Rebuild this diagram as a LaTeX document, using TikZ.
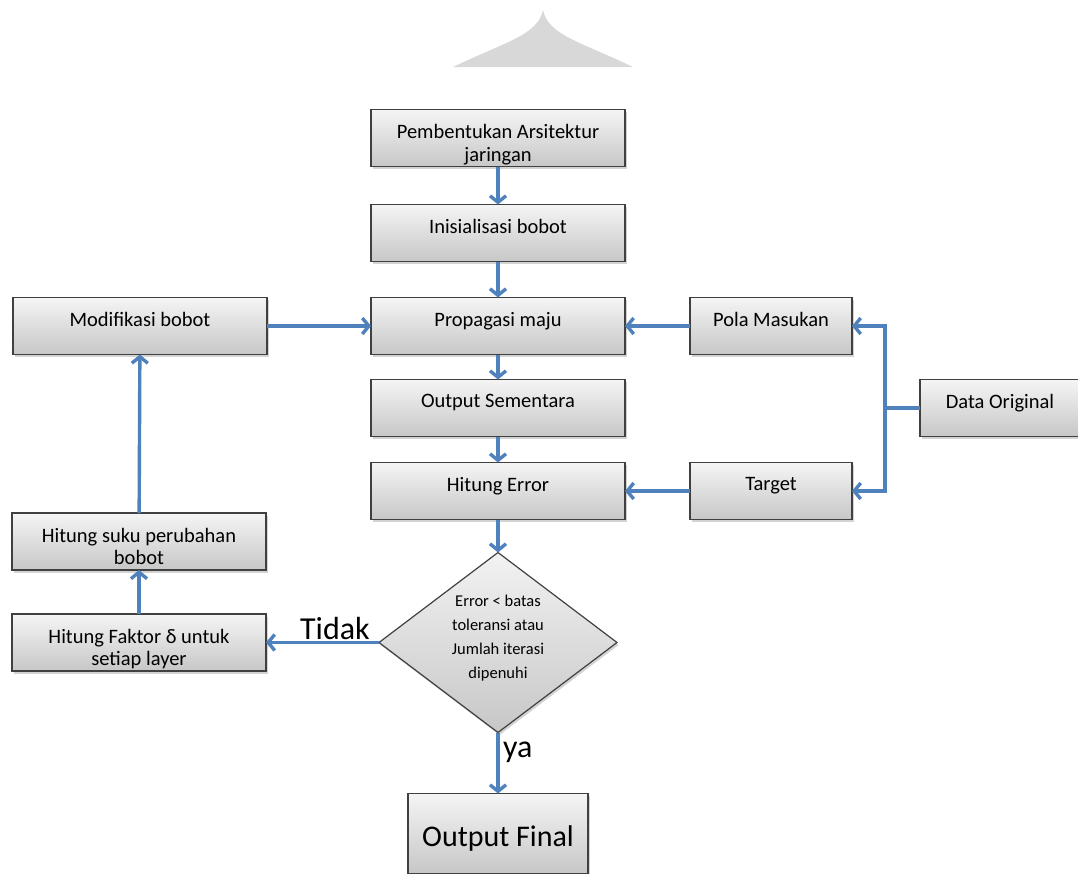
\documentclass[tikz,border=0pt]{standalone}
\usepackage{fontspec}
\setmainfont{Carlito}
\usetikzlibrary{arrows.meta,positioning,shapes.geometric,shadows}

\definecolor{flowblue}{RGB}{79,129,189}
\definecolor{roofgray}{RGB}{216,216,216}

\begin{document}
\begin{tikzpicture}[x=1pt,y=1pt,yscale=-1,
  box/.style = {draw=black!75, line width=1.2pt, rectangle, outer sep=0pt,
    top color=black!4, bottom color=black!22,
    drop shadow={shadow xshift=1.5pt, shadow yshift=-2.5pt, opacity=.35},
    minimum width=254pt, minimum height=57pt, inner sep=2pt,
    align=center, font=\fontsize{20.5}{22.5}\selectfont},
  oneline/.style = {text depth=14pt},
  twoline/.style = {text height=46pt, text depth=0pt},
  smallbox/.style = {box, oneline, minimum width=162pt},
  decision/.style = {draw=black!75, line width=1.2pt, diamond, outer sep=0pt,
    top color=black!5, bottom color=black!22,
    drop shadow={shadow xshift=1.5pt, shadow yshift=-2.5pt, opacity=.35},
    minimum width=238pt, minimum height=180pt, inner sep=0pt,
    text height=72pt, text depth=0pt,
    align=center, font=\fontsize{16.5}{24}\selectfont},
  flow/.style = {draw=flowblue, line width=3.4pt,
    -{Straight Barb[length=6.5pt,width=16pt]}},
  link/.style = {draw=flowblue, line width=3.4pt},
  big/.style = {font=\fontsize{32}{36}\selectfont},
  node distance=37pt]

  \useasboundingbox (0,0) rectangle (1078,873);

  % roof shape at the top
  \fill[roofgray] (453,67) .. controls (505,42) and (538,35) .. (543,10)
    .. controls (548,35) and (581,42) .. (633,67) -- cycle;

  % main column
  \node[box, twoline] (arsitektur) at (498,138) {Pembentukan Arsitektur\\jaringan};
  \node[box, oneline, below=38pt of arsitektur] (inisialisasi) {Inisialisasi bobot};
  \node[box, oneline, below=36pt of inisialisasi] (propagasi) {Propagasi maju};
  \node[box, oneline, below=25pt of propagasi] (sementara) {Output Sementara};
  \node[box, oneline, below=26pt of sementara] (error) {Hitung Error};
  \node[decision, below=33pt of error] (cek)
    {Error < batas\\toleransi atau\\Jumlah iterasi\\dipenuhi};
  \node[box, below=61pt of cek, minimum width=180pt, minimum height=80pt,
    text height=32pt, text depth=6pt,
    font=\fontsize{30}{34}\selectfont] (final) {Output Final};

  % right side
  \node[smallbox, right=65pt of propagasi] (pola) {Pola Masukan};
  \node[smallbox, right=65pt of error] (target) {Target};
  \node[smallbox, minimum width=160pt] (data) at (1000,408) {Data Original};
  \coordinate (cabang) at (885,408);

  % left side
  \node[box, oneline, left=104pt of propagasi] (modifikasi) {Modifikasi bobot};
  \node[box, twoline, left=113pt of cek] (faktor) {Hitung Faktor δ untuk\\setiap layer};
  \node[box, twoline, above=44pt of faktor] (suku) {Hitung suku perubahan\\bobot};

  \draw[flow] (arsitektur) -- (inisialisasi);
  \draw[flow] (inisialisasi) -- (propagasi);
  \draw[flow] (propagasi) -- (sementara);
  \draw[flow] (sementara) -- (error);
  \draw[flow] (error) -- (cek);
  \draw[flow] (cek) -- (final) node[pos=0.33, right, big] (ya) {ya};
  \draw[flow] (cek) -- (faktor) node[pos=0.39, above, big, inner sep=1pt] (tidak) {Tidak};
  \draw[flow] (faktor) -- (suku);
  \draw[flow] (suku) -- (modifikasi);
  \draw[flow] (modifikasi) -- (propagasi);
  \draw[flow] (pola) -- (propagasi);
  \draw[flow] (target) -- (error);
  \draw[link] (data) -- (cabang);
  \draw[flow] (cabang) |- (pola);
  \draw[flow] (cabang) |- (target);
\end{tikzpicture}
\end{document}
